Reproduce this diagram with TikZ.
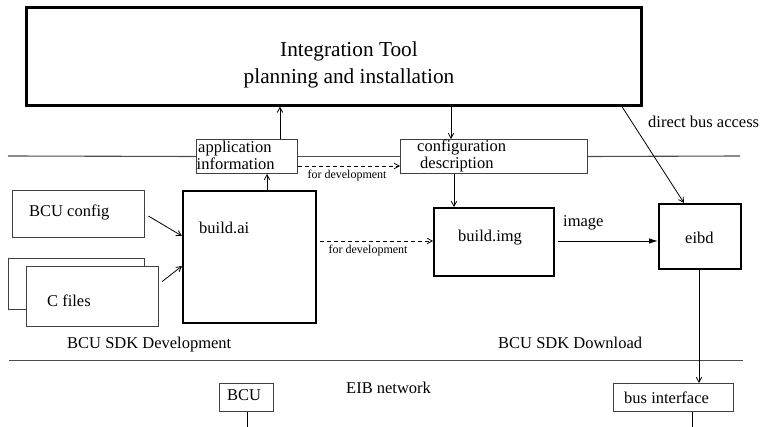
\documentclass[tikz,border=0pt]{standalone}
\usepackage{fontspec}
\setmainfont{Liberation Serif}
\usetikzlibrary{arrows.meta}
\begin{document}
\begin{tikzpicture}[x=1pt,y=-1pt,
  txt/.style={inner sep=0pt, anchor=base west, font=\fontsize{16.5}{19}\selectfont},
  small/.style={inner sep=0pt, anchor=base, font=\fontsize{12}{14}\selectfont},
  big/.style={inner sep=0pt, anchor=base, font=\fontsize{21.3}{25}\selectfont},
  thinbox/.style={draw=black!75, line width=1pt, fill=white, inner sep=0pt, anchor=north west},
  thickbox/.style={draw=black, line width=2.3pt, fill=white, inner sep=0pt, anchor=north west},
  bar/.style={draw=black!70, line width=1.1pt},
  arr/.style={draw=black, line width=0.8pt, -{Straight Barb[length=5pt,width=5.5pt]}},
  devarr/.style={arr, dashed, dash pattern=on 4pt off 3pt},
  filledarr/.style={draw=black, line width=0.9pt, -{Latex[length=9pt,width=5.5pt]}},
]
\useasboundingbox (0,0) rectangle (763,427);

% main tool
\node[thickbox, line width=2.7pt, minimum width=615pt, minimum height=98pt] (tool) at (25,6) {};
\node[big] (tooltitle) at (349,57) {Integration Tool};
\node[big] (toolsub) at (349,83.3) {planning and installation};

% interface boxes on the upper boundary
\node[thinbox, minimum width=101pt, minimum height=34pt] (app) at (196,139) {};
\node[txt] (appA) at (198,152.7) {application};
\node[txt] (appB) at (196.5,169.3) {information};
\node[thinbox, minimum width=187pt, minimum height=34pt] (cfg) at (400,139) {};
\node[txt] (cfgA) at (417,151.7) {configuration};
\node[txt] (cfgB) at (420,168.3) {description};

% boundary lines
\coordinate (hl) at (8,156);
\coordinate (hr) at (740,156);
\draw[bar] (hl) -- (app.west);
\draw[bar] (app.east) -- (cfg.west);
\draw[bar] (cfg.east) -- (hr);
\coordinate (bl) at (9,360.5);
\coordinate (br) at (743,360.5);
\draw[bar] (bl) -- (br);

% inputs
\node[thinbox, minimum width=132pt, minimum height=47pt] (bcucfg) at (12,190) {};
\node[txt] (bcucfgT) at (29,217) {BCU config};
\node[thinbox, minimum width=136pt, minimum height=51pt] (cback) at (8,258) {};
\node[thinbox, minimum width=132pt, minimum height=60pt] (cfiles) at (26,266) {};
\node[txt] (cfilesT) at (47,307) {C files};

% build tools
\node[thickbox, minimum width=133pt, minimum height=132pt] (ai) at (182,190) {};
\node[txt] (aiT) at (199,234) {build.ai};
\node[thickbox, minimum width=120pt, minimum height=68pt] (bimg) at (433,207) {};
\node[txt] (bimgT) at (458,241.7) {build.img};
\node[thickbox, minimum width=82pt, minimum height=65pt] (eibd) at (658,203) {};
\node[txt] (eibdT) at (685,244) {eibd};

% network side
\node[thinbox, minimum width=54pt, minimum height=28pt] (bcu) at (219,383) {};
\node[txt] (bcuT) at (227,400.7) {BCU};
\node[thinbox, minimum width=120pt, minimum height=28pt] (bus) at (613,383) {};
\node[txt] (busT) at (624,403) {bus interface};

% section labels
\node[txt] (devL) at (67,349) {BCU SDK Development};
\node[txt] (dlL) at (498,349) {BCU SDK Download};
\node[txt] (eibL) at (346,394) {EIB network};
\node[txt] (imgL) at (563,226.7) {image};
\node[txt] (dbaL) at (648,127.3) {direct bus access};
\node[small] (dev1) at (347,178.7) {for development};
\node[small] (dev2) at (368,254) {for development};

% connectors
\draw[arr] (app.north -| 280,0) -- (tool.south -| 280,0);
\draw[arr] (tool.south -| 451,0) -- (cfg.north -| 451,0);
\draw[arr] (ai.north -| 267,0) -- (app.south -| 267,0);
\draw[arr] (cfg.south -| 454,0) -- (bimg.north -| 454,0);
\draw[devarr] (app.east |- 0,166) -- (cfg.west |- 0,166);
\draw[devarr, shorten <=3pt] (ai.east |- 0,241) -- (bimg.west |- 0,241);
\draw[arr, shorten <=4pt] (bcucfg.east) -- (ai.west |- 0,236);
\draw[arr, shorten <=4pt] (cfiles.east |- 0,284) -- (ai.west |- 0,266);
\draw[filledarr, shorten <=3pt] (bimg.east |- 0,241) -- (eibd.west |- 0,241);
\draw[arr] (tool.south -| 622,0) -- (eibd.north -| 684,0);
\draw[arr] (eibd.south -| 699,0) -- (bus.north -| 699,0);
\coordinate (bcuEnd) at (247,427);
\coordinate (busEnd) at (692,427);
\draw[draw=black, line width=0.9pt] (bcu.south -| bcuEnd) -- (bcuEnd);
\draw[draw=black, line width=0.9pt] (bus.south -| busEnd) -- (busEnd);
\end{tikzpicture}
\end{document}
